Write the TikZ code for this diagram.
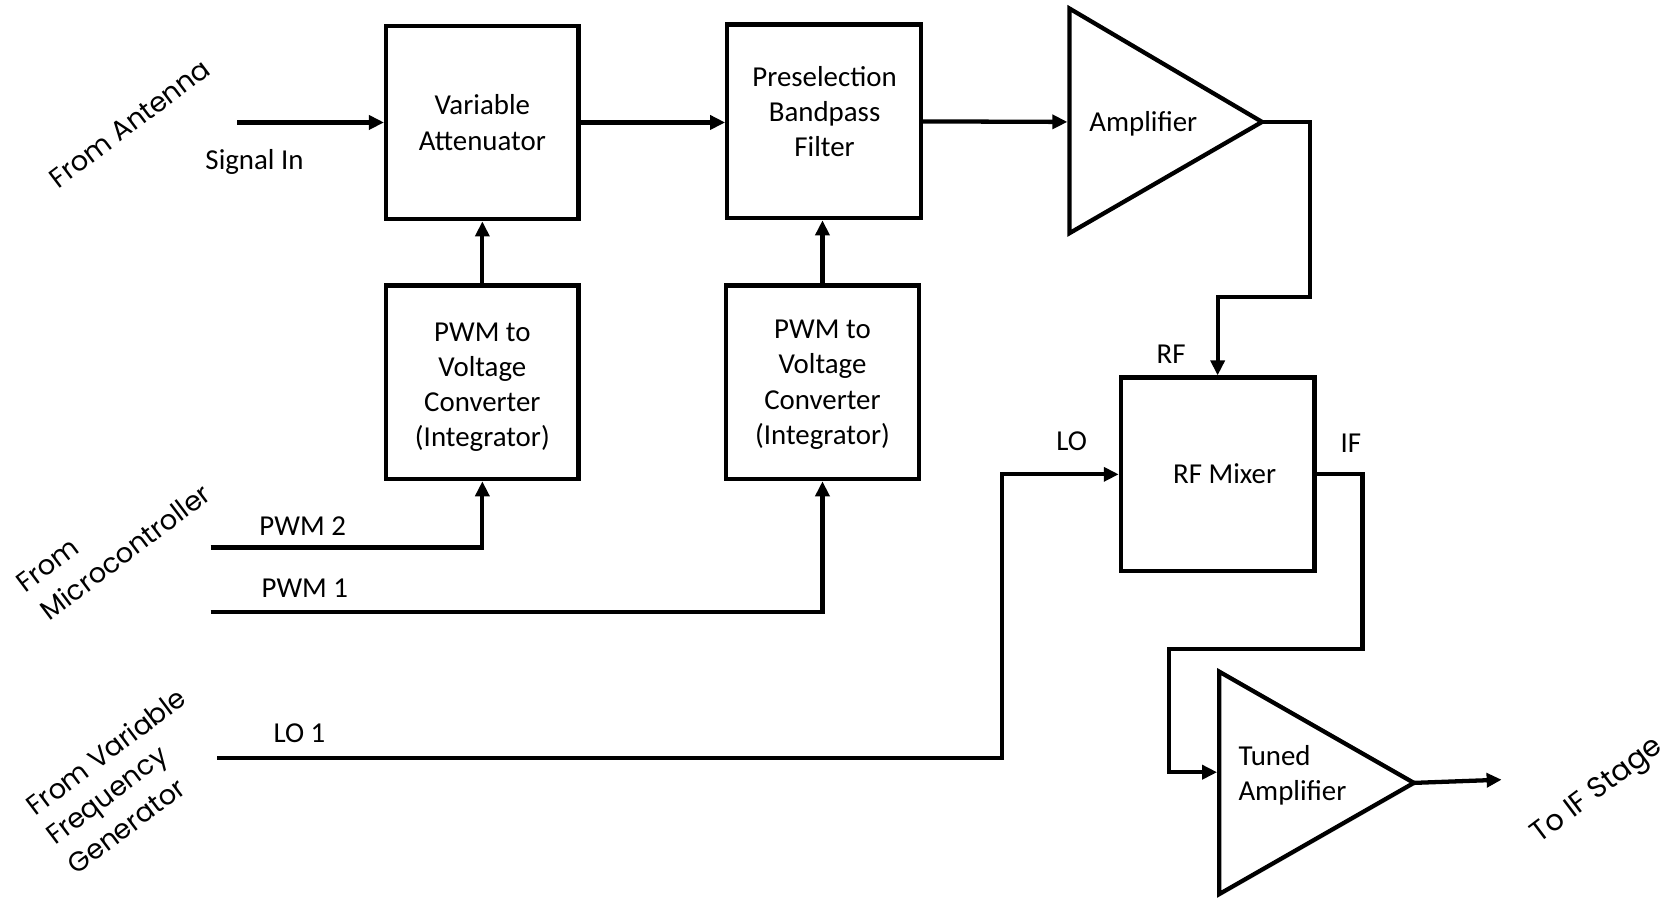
\documentclass[tikz,border=0pt]{standalone}
\usepackage{fontspec}
\setmainfont{Carlito}
\newfontfamily\handfont{Poppins}
\usetikzlibrary{arrows.meta}
\newcommand\mainfs{\fontsize{27}{33}\selectfont}
\newcommand\handfs{\handfont\fontsize{25.5}{33}\selectfont}
\begin{document}
\begin{tikzpicture}[x=1pt,y=-1pt,line width=4pt,
  box/.style={draw,line width=4pt,minimum width=180pt,minimum height=181pt,inner sep=0pt,align=center,font=\mainfs},
  lbl/.style={inner sep=0pt,font=\mainfs},
  hand/.style={inner sep=0pt,font=\handfs,rotate=37,anchor=base west},
  arr/.style={-{Triangle[length=14pt,width=13pt]},line width=4pt,line join=miter},
  amp/.style={draw,line width=4pt,line join=miter}]
\fill[white] (0,0) rectangle (1568,839);
\useasboundingbox (0,0) rectangle (1568,839);

% boxes
\node[box] (va) at (451,114.5) {Variable\\Attenuator};
\node[box,minimum width=181pt] (pbf) at (770.5,113.5) {};
\node[lbl,align=center] (pbfl) at (771,104.5) {Preselection\\Bandpass\\Filter};
\node[box,text depth=0pt] (pwmA) at (451,357.5) {};
\node[lbl,align=center] (pwmAl) at (451,362) {PWM to\\Voltage\\Converter\\(Integrator)};
\node[box,text depth=0pt] (pwmB) at (769,357.5) {PWM to\\Voltage\\Converter\\(Integrator)};
\node[box,minimum width=181pt] (mix) at (1138.5,443.5) {};
\node[lbl] (mixl) at (1145,443) {RF Mixer};

% amplifiers
\draw[amp] (1000,8) -- (1180,114) -- (1000,218) -- cycle;
\coordinate (ampin) at (998,114);
\coordinate (amptip) at (1180,114);
\node[lbl] (ampl) at (1069,116) {Amplifier};
\draw[amp] (1140,628) -- (1322,732) -- (1140,836) -- cycle;
\coordinate (tin) at (1138,722);
\coordinate (ttip) at (1322,732);
\node[lbl,align=left,anchor=west] (tunl) at (1156,725) {Tuned\\Amplifier};

% free ends
\coordinate (sigin) at (222,114.5);
\coordinate (pwm2in) at (197,512);
\coordinate (pwm1in) at (197,572);
\coordinate (lo1in) at (203,709);
\coordinate (ifout) at (1404,729);

% connectors
\draw[arr] (sigin) -- (va.west);
\draw[arr] (va.east) -- (va.east -| pbf.west);
\draw[arr] (pbf.east) -- (ampin);
\draw[arr] (amptip) -- (1225,114) -- (1225,278) -| (mix.north);
\draw[arr] (pwmA.north) -- (va.south);
\draw[arr] (pwmB.north) -- (pwmB.north |- pbf.south);
\draw[arr] (pwm2in) -| (pwmA.south);
\draw[arr] (pwm1in) -| (pwmB.south);
\draw[arr] (lo1in) -- (937,709) |- (mix.west);
\draw[arr] (mix.east) -- (1274,443.5) -- (1274,607) -- (1093,607) |- (tin);
\draw[arr] (ttip) -- (ifout);

% labels
\node[lbl] (lsig) at (238,151) {Signal In};
\node[lbl] (lpwm2) at (283,492) {PWM 2};
\node[lbl] (lpwm1) at (285,550) {PWM 1};
\node[lbl] (llo1) at (280,686) {LO 1};
\node[lbl] (lrf) at (1095,331) {RF};
\node[lbl] (llo) at (1002,413) {LO};
\node[lbl] (lif) at (1263,414) {IF};

% rotated labels
\node[hand] (fant) at (53,178) {From Antenna};
\node[hand] (fmc1) at (22,556) {From};
\node[hand] (fmc2) at (45,582) {Microcontroller};
\node[hand] (fvfg1) at (32,765) {From Variable};
\node[hand] (fvfg2) at (50,792) {Frequency};
\node[hand] (fvfg3) at (70,820) {Generator};
\node[hand,font=\handfont\fontsize{27}{33}\selectfont] (tif) at (1438,790) {To IF Stage};
\end{tikzpicture}
\end{document}
